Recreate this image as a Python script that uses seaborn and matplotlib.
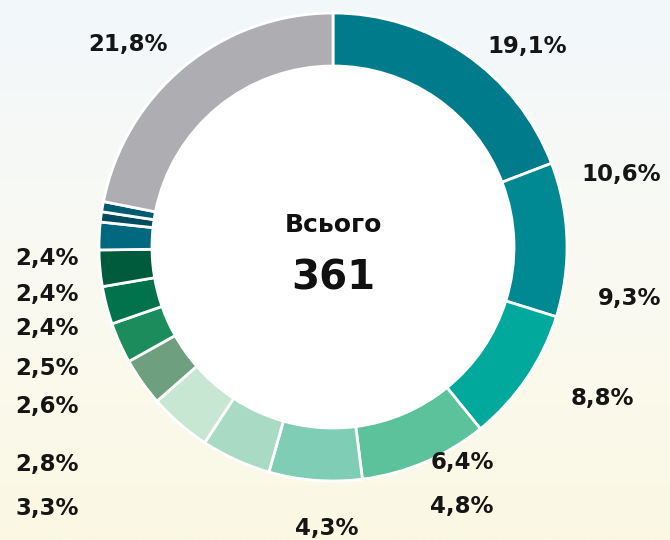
import matplotlib
matplotlib.use("Agg")
import numpy as np
import matplotlib.pyplot as plt
import seaborn as sns
from matplotlib.colors import LinearSegmentedColormap

# slice sizes (%), clockwise from 12 o'clock
shares = [19.1, 10.6, 9.3, 8.8, 6.4, 4.8, 4.3, 3.3, 2.8, 2.6, 2.5, 1.9, 0.7, 0.7, 21.8]
colors = ["#007b8b", "#008993", "#00a99b", "#5cc29c", "#80cdb5", "#a9dbc4", "#c8e7d2",
          "#6e9f7e", "#1d8c5c", "#00734c", "#005a3c", "#00687f", "#004c5e", "#005a70",
          "#aeaeb2"]

# labels as printed on the chart
label_text = ["19,1%", "10,6%", "9,3%", "8,8%", "6,4%", "4,8%", "4,3%",
              "3,3%", "2,8%", "2,6%", "2,5%", "2,4%", "2,4%", "2,4%", "21,8%"]
# where each label sits (pixels from top-left)
label_pos = [(527, 47), (621, 174), (630, 299), (602, 399), (462, 463), (462, 507),
             (327, 528), (47, 508), (47, 465), (47, 407), (47, 368), (47, 329),
             (47, 295), (47, 258), (128, 45)]

total_title = "Всього"
total_value = "361"

sns.set_style("white")
plt.rcParams["font.family"] = ["DejaVu Sans"]

W, H = 670, 540
cx, cy, r_out, r_in = 333, 247, 234, 181

fig = plt.figure(figsize=(W / 100, H / 100), dpi=100)

# soft background: pale blue at top fading to cream at bottom
bg = fig.add_axes([0, 0, 1, 1], zorder=0)
grad = np.linspace(0, 1, 256).reshape(-1, 1)
cmap = LinearSegmentedColormap.from_list("bg", ["#f2f7fb", "#fafaf2", "#fbf8e3"])
bg.imshow(grad, aspect="auto", cmap=cmap, extent=[0, 1, 0, 1])
bg.axis("off")

ax = fig.add_axes([0, 0, 1, 1], zorder=1)
ax.patch.set_alpha(0)
ax.pie(shares, colors=colors, startangle=90, counterclock=False, radius=1,
       wedgeprops=dict(width=(r_out - r_in) / r_out, edgecolor="white", linewidth=2))
ax.add_patch(plt.Circle((0, 0), r_in / r_out - 0.005, color="white", zorder=0.5))
ax.set_xlim(-cx / r_out, (W - cx) / r_out)
ax.set_ylim((cy - H) / r_out, cy / r_out)
ax.set_aspect("auto")
ax.axis("off")

ax.text(0, (cy - 225) / r_out, total_title, ha="center", va="center",
        fontsize=18, fontweight="bold", color="#111111")
ax.text(0, (cy - 279) / r_out, total_value, ha="center", va="center",
        fontsize=29, fontweight="bold", color="#111111")

for txt, (px, py) in zip(label_text, label_pos):
    fig.text(px / W, 1 - py / H, txt, ha="center", va="center",
             fontsize=16.5, fontweight="bold", color="#151515", zorder=3)

fig.savefig("out.png", dpi=100)
